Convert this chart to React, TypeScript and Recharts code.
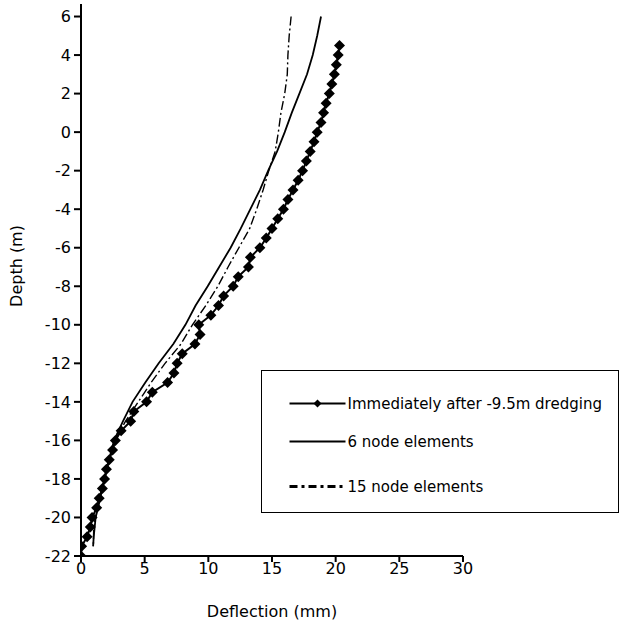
import React from 'react';
import { ScatterChart, Scatter, XAxis, YAxis, Legend } from 'recharts';

// ---- data (depth in m, deflection in mm) ----
const measuredDepth = [
  4.5, 4, 3.5, 3, 2.5, 2, 1.5, 1, 0.5, 0, -0.5, -1, -1.5, -2, -2.5, -3, -3.5, -4, -4.5, -5,
  -5.5, -6, -6.5, -7, -7.5, -8, -8.5, -9, -9.5, -10, -10.5, -11, -11.5, -12, -12.5, -13,
  -13.5, -14, -14.5, -15, -15.5, -16, -16.5, -17, -17.5, -18, -18.5, -19, -19.5, -20,
  -20.5, -21, -21.5, -22,
];
const measuredDefl = [
  20.3, 20.2, 20.05, 19.9, 19.7, 19.5, 19.25, 19.05, 18.85, 18.55, 18.3, 18.0, 17.7, 17.4,
  17.05, 16.65, 16.25, 15.9, 15.45, 15.0, 14.55, 14.05, 13.3, 13.15, 12.35, 11.95, 11.2,
  10.8, 10.2, 9.25, 9.35, 8.95, 7.95, 7.55, 7.3, 6.8, 5.6, 5.15, 4.15, 3.9, 3.15, 2.7, 2.48,
  2.22, 2.0, 1.85, 1.68, 1.43, 1.23, 0.87, 0.73, 0.48, 0.05, 0,
];

const node6Depth = [
  6, 5, 4, 3, 2, 1, 0, -1, -2, -3, -4, -5, -6, -7, -8, -9, -10, -11, -12, -13, -14, -15,
  -16, -17, -18, -19, -20, -21, -21.5,
];
const node6Defl = [
  18.85, 18.55, 18.2, 17.75, 17.15, 16.55, 16.0, 15.4, 14.7, 14.05, 13.3, 12.55, 11.75,
  10.85, 9.95, 9.0, 8.2, 7.25, 6.1, 5.05, 4.05, 3.3, 2.6, 2.2, 1.85, 1.5, 1.15, 1.0, 0.95,
];

const node15Depth = [
  6, 5, 4, 3, 2, 1, 0, -1, -2, -3, -4, -5, -6, -7, -8, -9, -10, -11, -12, -13, -14, -15,
  -16, -17, -18, -19, -20, -20.5, -21.5,
];
const node15Defl = [
  16.5, 16.35, 16.25, 16.2, 16.0, 15.7, 15.5, 15.25, 14.75, 14.3, 13.8, 13.25, 12.4, 11.55,
  10.75, 9.8, 8.75, 7.85, 6.6, 5.5, 4.5, 3.5, 2.65, 2.2, 1.85, 1.5, 1.15, 1.0, 0.97,
];

const xTicks = [0, 5, 10, 15, 20, 25, 30];
const yTicks = [-22, -20, -18, -16, -14, -12, -10, -8, -6, -4, -2, 0, 2, 4, 6];
const seriesNames = ['Immediately after -9.5m dredging', '6 node elements', '15 node elements'];

const toPoints = (depths: number[], defl: number[]) =>
  depths.map((d, i) => ({ x: defl[i], y: d }));

const measuredData = toPoints(measuredDepth, measuredDefl);
const node6Data = toPoints(node6Depth, node6Defl);
const node15Data = toPoints(node15Depth, node15Defl);

const FONT = 'DejaVu Sans';
const DASH_DOT = '9 3 2 3';

const Diamond = (props: any) => {
  const { cx, cy } = props;
  if (cx == null || cy == null) return <g />;
  const r = 5.5;
  return (
    <polygon
      points={`${cx},${cy - r} ${cx + r},${cy} ${cx},${cy + r} ${cx - r},${cy}`}
      fill="#000"
    />
  );
};

const NoShape = () => <g />;

const XLabel = (props: any) => {
  const vb = props.viewBox || { x: 81, y: 556, width: 382, height: 68 };
  return (
    <text
      x={vb.x + vb.width / 2}
      y={vb.y + 61}
      textAnchor="middle"
      fontFamily={FONT}
      fontSize={16}
      fill="#000"
    >
      Deflection (mm)
    </text>
  );
};

const YLabel = (props: any) => {
  const vb = props.viewBox || { x: 0, y: 4, width: 81, height: 552 };
  const x = vb.x + 22;
  const y = vb.y + 262;
  return (
    <text
      x={x}
      y={y}
      transform={`rotate(-90, ${x}, ${y})`}
      textAnchor="middle"
      fontFamily={FONT}
      fontSize={16}
      fill="#000"
    >
      Depth (m)
    </text>
  );
};

const LEG_W = 358;
const LEG_H = 143;

const LegendBox = () => {
  const rows = [34, 72, 117];
  return (
    <div
      style={{
        width: LEG_W,
        height: LEG_H,
        border: '1.5px solid #000',
        boxSizing: 'border-box',
        background: '#fff',
      }}
    >
      <svg width={LEG_W - 3} height={LEG_H - 3} style={{ display: 'block' }}>
        <g transform="translate(-1.5,-1.5)">
          <line x1={29} x2={85} y1={rows[0]} y2={rows[0]} stroke="#000" strokeWidth={2} />
          <polygon
            points={`57,${rows[0] - 4} 61,${rows[0]} 57,${rows[0] + 4} 53,${rows[0]}`}
            fill="#000"
          />
          <line x1={29} x2={85} y1={rows[1]} y2={rows[1]} stroke="#000" strokeWidth={1.8} />
          <line
            x1={29}
            x2={85}
            y1={rows[2]}
            y2={rows[2]}
            stroke="#000"
            strokeWidth={3}
            strokeDasharray="8 4 3 4"
          />
          {seriesNames.map((n, i) => (
            <text
              key={n}
              x={87}
              y={rows[i] + 5.5}
              fontFamily={FONT}
              fontSize={15}
              fill="#000"
            >
              {n}
            </text>
          ))}
        </g>
      </svg>
    </div>
  );
};

export default function App() {
  const axisStyle = { stroke: '#000', strokeWidth: 2 };
  const tickStyle = { fill: '#000', fontSize: 16, fontFamily: FONT };
  return (
    <div style={{ position: 'absolute', left: 0, top: 0, background: '#fff' }}>
      <ScatterChart
        width={627}
        height={624}
        margin={{ top: 4, right: 164, bottom: 0, left: 0 }}
        style={{ fontFamily: FONT }}
      >
        <XAxis
          type="number"
          dataKey="x"
          domain={[0, 30]}
          ticks={xTicks}
          interval={0}
          allowDataOverflow
          height={68}
          axisLine={axisStyle}
          tickLine={axisStyle}
          tickSize={6}
          tickMargin={1}
          tick={tickStyle}
          label={XLabel}
        />
        <YAxis
          type="number"
          dataKey="y"
          domain={[-22, 6.65]}
          ticks={yTicks}
          interval={0}
          allowDataOverflow
          width={81}
          axisLine={axisStyle}
          tickLine={axisStyle}
          tickSize={7}
          tickMargin={3}
          tick={tickStyle}
          label={YLabel}
        />
        <Legend
          layout="vertical"
          align="center"
          verticalAlign="middle"
          content={LegendBox}
          wrapperStyle={{ left: 261, top: 370, width: LEG_W, height: LEG_H }}
        />
        <Scatter
          name={seriesNames[2]}
          data={node15Data}
          line={{ stroke: '#000', strokeWidth: 1.4, strokeDasharray: DASH_DOT }}
          lineType="joint"
          shape={NoShape}
          fill="#000"
          isAnimationActive={false}
        />
        <Scatter
          name={seriesNames[1]}
          data={node6Data}
          line={{ stroke: '#000', strokeWidth: 1.8 }}
          lineType="joint"
          shape={NoShape}
          fill="#000"
          isAnimationActive={false}
        />
        <Scatter
          name={seriesNames[0]}
          data={measuredData}
          line={{ stroke: '#000', strokeWidth: 2 }}
          lineType="joint"
          shape={Diamond}
          fill="#000"
          isAnimationActive={false}
        />
      </ScatterChart>
    </div>
  );
}
